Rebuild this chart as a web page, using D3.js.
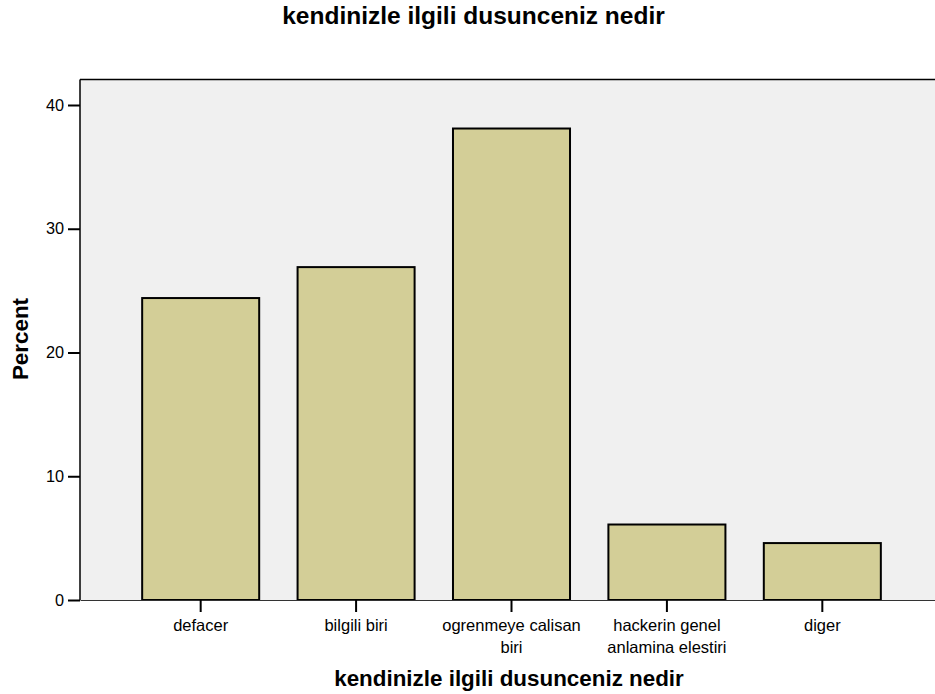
<!DOCTYPE html>
<html><head><meta charset="utf-8">
<script src="https://cdn.jsdelivr.net/npm/d3@7"></script>
<style>body{margin:0;background:#fff}svg{display:block;font-family:Arial,"Liberation Sans",sans-serif}</style>
</head><body>
<svg id="c" width="935" height="694"></svg>
<script>
const categories = ["defacer", "bilgili biri", "ogrenmeye calisan biri", "hackerin genel anlamina elestiri", "diger"];
const labelLines = [["defacer"], ["bilgili biri"], ["ogrenmeye calisan", "biri"], ["hackerin genel", "anlamina elestiri"], ["diger"]];
const percents = [24.4, 26.9, 38.1, 6.1, 4.6];
const yTicks = [0, 10, 20, 30, 40];
const title = "kendinizle ilgili dusunceniz nedir";
const xTitle = "kendinizle ilgili dusunceniz nedir";
const yTitle = "Percent";

const FF = "Arial, 'Liberation Sans', sans-serif";
const svg = d3.select("#c");
const L = 80, T = 79.5, B = 600, R = 935;
const y = d3.scaleLinear().domain([0, 40]).range([B, 105]);
const x = d3.scaleBand().domain(categories).range([L, 943]).paddingInner(0.247).paddingOuter(0.4);

svg.append("rect").attr("x", L).attr("y", T).attr("width", R - L + 5).attr("height", B - T)
  .attr("fill", "#f0f0f0");
svg.append("line").attr("x1", L).attr("x2", R).attr("y1", T).attr("y2", T).attr("stroke", "#000").attr("stroke-width", 1.5);

svg.selectAll("rect.bar").data(categories).join("rect").attr("class", "bar")
  .attr("x", d => x(d)).attr("width", x.bandwidth())
  .attr("y", (d, i) => y(percents[i])).attr("height", (d, i) => B - y(percents[i]))
  .attr("fill", "#d3ce97").attr("stroke", "#000").attr("stroke-width", 2);

// y axis
const ya = svg.append("g").attr("transform", `translate(${L},0)`)
  .call(d3.axisLeft(y).tickValues(yTicks).tickSize(12).tickSizeOuter(0).tickPadding(4));
ya.select(".domain").attr("stroke", "#000").attr("stroke-width", 1.5).attr("d", `M0,${T}V${B}`);
ya.selectAll(".tick line").attr("stroke", "#000").attr("stroke-width", 2);
ya.selectAll(".tick text").attr("font-size", 16.3).attr("fill", "#000").attr("font-family", FF);

// x axis
const xa = svg.append("g").attr("transform", `translate(0,${B})`)
  .call(d3.axisBottom(x).tickSize(12).tickSizeOuter(0).tickFormat(""));
xa.select(".domain").attr("stroke", "#333").attr("stroke-width", 1.2);
xa.selectAll(".tick line").attr("stroke", "#000").attr("stroke-width", 2);
xa.selectAll(".tick").each(function(d, i) {
  const t = d3.select(this).append("text").attr("fill", "#000").attr("font-size", 16.5)
    .attr("text-anchor", "middle").attr("font-family", FF);
  labelLines[i].forEach((ln, j) => t.append("tspan").attr("x", 0).attr("y", 31 + j * 22).text(ln));
});

svg.append("text").attr("x", 473.5).attr("y", 24).attr("text-anchor", "middle").attr("font-family", FF)
  .attr("font-size", 24.5).attr("font-weight", "bold").text(title);
svg.append("text").attr("x", 509).attr("y", 686).attr("text-anchor", "middle").attr("font-family", FF)
  .attr("font-size", 22.4).attr("font-weight", "bold").text(xTitle);
svg.append("text").attr("transform", `translate(28,339) rotate(-90)`).attr("text-anchor", "middle").attr("font-family", FF)
  .attr("font-size", 22.4).attr("font-weight", "bold").text(yTitle);
</script>
</body></html>
